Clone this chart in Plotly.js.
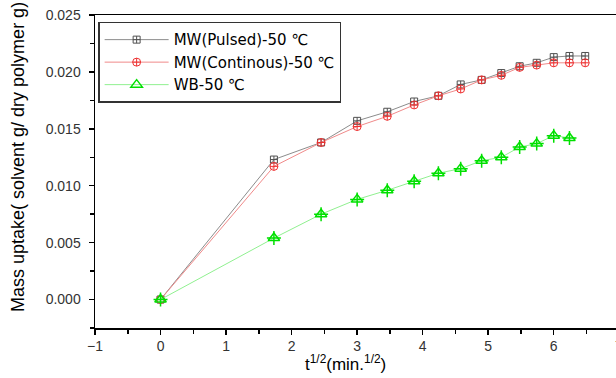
<!DOCTYPE html>
<html><head><meta charset="utf-8">
<script src="https://cdn.plot.ly/plotly-3.0.1.min.js"></script>
<style>html,body{margin:0;padding:0;background:#fff}#chart{width:616px;height:378px}</style>
</head><body><div id="chart"></div>
<script>
var sqrtTime = [0, 1.73, 2.45, 3.0, 3.46, 3.87, 4.24, 4.58, 4.90, 5.20, 5.48, 5.74, 6.0, 6.24, 6.48];
var mwPulsed = [0, 0.0123, 0.0138, 0.0157, 0.0165, 0.0174, 0.0179, 0.0189, 0.0193, 0.0199, 0.0205, 0.0208, 0.0213, 0.0214, 0.0214];
var mwContinous = [0, 0.0117, 0.0138, 0.0152, 0.0161, 0.0171, 0.0179, 0.0185, 0.0193, 0.0197, 0.0204, 0.0206, 0.0208, 0.0208, 0.0208];
var sqrtTimeWB = [0, 1.73, 2.45, 3.0, 3.46, 3.87, 4.24, 4.58, 4.90, 5.20, 5.48, 5.74, 6.0, 6.24];
var wb = [0, 0.0054, 0.0075, 0.0088, 0.0096, 0.0104, 0.0111, 0.0115, 0.0122, 0.0125, 0.0134, 0.0137, 0.0144, 0.0142];
var seriesNames = ["MW(Pulsed)-50 \u2103", "MW(Continous)-50 \u2103", "WB-50 \u2103"];
var xTitle = 't<sup>1/2</sup>(min.<sup>1/2</sup>)';
var yTitle = 'Mass uptake( solvent g/ dry polymer g)';

var FAM = 'Liberation Sans, Arial, sans-serif';
var LFAM = 'DejaVu Sans, sans-serif';
var traces = [
  {x: sqrtTime, y: mwPulsed, name: seriesNames[0], mode: 'lines+markers', type: 'scatter',
   line: {color: '#8c8c8c', width: 1},
   marker: {symbol: 'square-cross-open', size: 7, color: '#505050', line: {width: 1}}},
  {x: sqrtTime, y: mwContinous, name: seriesNames[1], mode: 'lines+markers', type: 'scatter',
   line: {color: '#f08a8a', width: 1},
   marker: {symbol: 'circle-cross-open', size: 8, color: '#ee3030', line: {width: 1}}},
  {x: sqrtTimeWB, y: wb, name: seriesNames[2], mode: 'lines+markers', type: 'scatter',
   line: {color: '#90f090', width: 1},
   marker: {symbol: 'triangle-up-open', size: 10, color: '#00e000', line: {width: 1.5}}},
  {x: sqrtTimeWB, y: wb, name: seriesNames[2], mode: 'markers', type: 'scatter', showlegend: false,
   marker: {symbol: 'cross-thin-open', size: 10, color: '#00e000', line: {width: 1.5}}}
];

var axFont = {family: FAM, size: 14, color: '#333'};
var layout = {
  width: 616, height: 378,
  margin: {l: 95, r: 0, t: 15, b: 50},
  paper_bgcolor: '#fff', plot_bgcolor: '#fff',
  showlegend: true,
  legend: {x: 0.006, y: 0.978, xanchor: 'left', yanchor: 'top',
    bgcolor: '#fff', bordercolor: '#333', borderwidth: 1.5,
    font: {family: LFAM, size: 15, color: '#000'},
    itemwidth: 64, tracegroupgap: 0},
  xaxis: {range: [-1, 6.95], tickmode: 'linear', tick0: -1, dtick: 1,
    ticks: 'outside', ticklen: 5, tickwidth: 1.5, tickcolor: '#000',
    minor: {dtick: 0.5, ticks: 'outside', ticklen: 4, tickwidth: 1.5, tickcolor: '#000'},
    showline: true, linecolor: '#000', linewidth: 1.5, mirror: true,
    showgrid: false, zeroline: false, tickfont: axFont},
  yaxis: {range: [-0.0025, 0.025], tickmode: 'linear', tick0: 0, dtick: 0.005, tickformat: '.3f',
    ticks: 'outside', ticklen: 5, tickwidth: 1.5, tickcolor: '#000', ticklabelstandoff: 5,
    minor: {dtick: 0.0025, ticks: 'outside', ticklen: 4, tickwidth: 1.5, tickcolor: '#000'},
    showline: true, linecolor: '#000', linewidth: 1.5,
    showgrid: false, zeroline: false, tickfont: axFont},
  annotations: [
    {xref: 'paper', yref: 'paper', x: 1.006, y: 0, yshift: -8, xanchor: 'center', yanchor: 'top',
     text: '7', showarrow: false, font: axFont},
    {xref: 'paper', yref: 'paper', x: 0.48, y: -0.112, xanchor: 'center', yanchor: 'middle',
     text: xTitle, showarrow: false, font: {family: FAM, size: 17, color: '#000'}},
    {xref: 'paper', yref: 'paper', x: -0.148, y: 0.546, xanchor: 'center', yanchor: 'middle',
     textangle: -90, text: yTitle, showarrow: false, font: {family: FAM, size: 18, color: '#000'}}
  ]
};
Plotly.newPlot('chart', traces, layout, {displayModeBar: false, staticPlot: true});
</script></body></html>
